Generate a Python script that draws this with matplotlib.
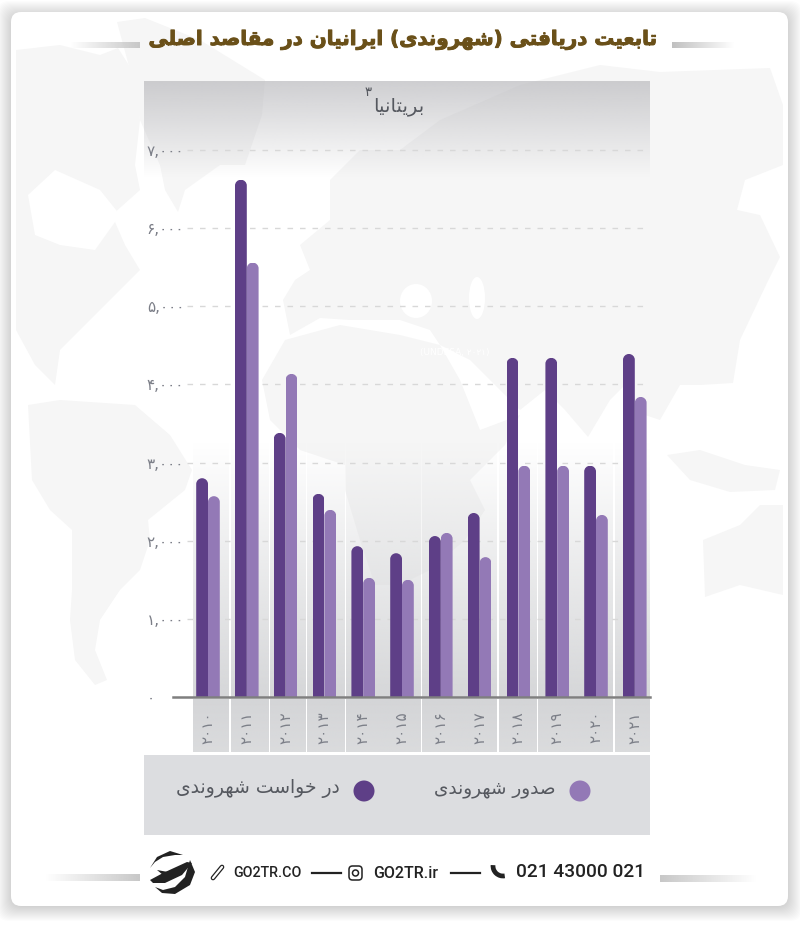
import numpy as np
import matplotlib
matplotlib.use("Agg")
import matplotlib.pyplot as plt
import matplotlib.patheffects as pe
from matplotlib.patches import Rectangle, FancyBboxPatch, Circle, Polygon, Arc, Ellipse
from matplotlib.path import Path

years = ["۲۰۱۰", "۲۰۱۱", "۲۰۱۲", "۲۰۱۳", "۲۰۱۴", "۲۰۱۵", "۲۰۱۶", "۲۰۱۷", "۲۰۱۸", "۲۰۱۹", "۲۰۲۰", "۲۰۲۱"]
applied = [2800, 6620, 3380, 2600, 1930, 1840, 2060, 2355, 4340, 4340, 2960, 4390]
granted = [2570, 5560, 4135, 2395, 1525, 1500, 2100, 1790, 2960, 2960, 2330, 3840]
y_ticks = [0, 1000, 2000, 3000, 4000, 5000, 6000, 7000]
y_labels = ["۰", "۱,۰۰۰", "۲,۰۰۰", "۳,۰۰۰", "۴,۰۰۰", "۵,۰۰۰", "۶,۰۰۰", "۷,۰۰۰"]
title = "تابعیت دریافتی (شهروندی) ایرانیان در مقاصد اصلی"
country = "بریتانیا"
applied_label = "در خواست شهروندی"
granted_label = "صدور شهروندی"

DARK = "#5e3f87"
LIGHT = "#9379b6"
MAP = "#f6f6f6"

# isolated, final, initial, medial
forms = {
    "ا": "\uFE8D\uFE8E", "د": "\uFEA9\uFEAA", "ر": "\uFEAD\uFEAE", "و": "\uFEED\uFEEE",
    "ب": "\uFE8F\uFE90\uFE91\uFE92", "ت": "\uFE95\uFE96\uFE97\uFE98",
    "ی": "\uFBFC\uFBFD\uFBFE\uFBFF", "ن": "\uFEE5\uFEE6\uFEE7\uFEE8",
    "ع": "\uFEC9\uFECA\uFECB\uFECC", "ف": "\uFED1\uFED2\uFED3\uFED4",
    "ق": "\uFED5\uFED6\uFED7\uFED8", "م": "\uFEE1\uFEE2\uFEE3\uFEE4",
    "ص": "\uFEB9\uFEBA\uFEBB\uFEBC", "ل": "\uFEDD\uFEDE\uFEDF\uFEE0",
    "ش": "\uFEB5\uFEB6\uFEB7\uFEB8", "ه": "\uFEE9\uFEEA\uFEEB\uFEEC",
    "خ": "\uFEA5\uFEA6\uFEA7\uFEA8", "س": "\uFEB1\uFEB2\uFEB3\uFEB4",
}


# matplotlib has no arabic shaping, so pick the joined glyphs by hand
def fa(s):
    out = []
    for i, c in enumerate(s):
        if c not in forms:
            out.append({"(": ")", ")": "("}.get(c, c))
            continue
        before = i > 0 and s[i - 1] in forms and len(forms[s[i - 1]]) == 4
        after = i < len(s) - 1 and s[i + 1] in forms
        f = forms[c]
        if len(f) == 2:
            out.append(f[1] if before else f[0])
        elif before and after:
            out.append(f[3])
        elif before:
            out.append(f[1])
        elif after:
            out.append(f[2])
        else:
            out.append(f[0])
    return "".join(out[::-1])


fig = plt.figure(figsize=(8, 9.31), dpi=100, facecolor="white")
bg = fig.add_axes([0, 0, 1, 1], zorder=0)
bg.set_xlim(0, 800)
bg.set_ylim(931, 0)
bg.axis("off")


def grad(x0, x1, y0, y1, rgb, a0, a1, vert=True, z=3):
    n = 64
    arr = np.zeros((n, 1, 4)) if vert else np.zeros((1, n, 4))
    arr[..., :3] = matplotlib.colors.to_rgb(rgb)
    arr[..., 3] = np.linspace(a0, a1, n).reshape(arr.shape[:2])
    bg.imshow(arr, extent=(x0, x1, y1, y0), aspect="auto", interpolation="bilinear", zorder=z)


# card and its shadow
for k in range(15):
    bg.add_patch(FancyBboxPatch((11 - k, 15 - k), 777 + 2 * k, 892 + 2 * k, boxstyle="round,pad=0,rounding_size=12",
                                fc="black", ec="none", alpha=0.010, zorder=0))
bg.add_patch(FancyBboxPatch((11, 12), 777, 894, boxstyle="round,pad=0,rounding_size=10", fc="white", ec="none", zorder=1))

# faint world map
land = [
    [(16, 50), (60, 45), (100, 55), (118, 48), (132, 70), (140, 120), (135, 165), (140, 190), (112, 215), (125, 245),
     (140, 270), (110, 300), (75, 335), (60, 350), (55, 385), (35, 365), (16, 330)],
    [(117, 22), (145, 18), (200, 40), (265, 80), (262, 115), (245, 165), (220, 165), (185, 190), (178, 212), (165, 190),
     (160, 165), (140, 120), (130, 70)],
    [(28, 405), (60, 400), (135, 405), (170, 435), (192, 470), (185, 490), (148, 520), (150, 540), (140, 570), (120, 590),
     (100, 620), (95, 650), (107, 680), (95, 685), (75, 660), (70, 620), (72, 590), (72, 530), (50, 510), (32, 480)],
    [(285, 340), (340, 325), (400, 335), (440, 345), (460, 380), (480, 430), (520, 415), (505, 445), (470, 480),
     (485, 510), (465, 540), (430, 570), (400, 585), (375, 585), (360, 540), (345, 490), (345, 465), (300, 450),
     (270, 420), (262, 380)],
    [(283, 300), (295, 280), (310, 270), (300, 245), (330, 220), (330, 180), (360, 150), (400, 150), (440, 120),
     (520, 85), (560, 75), (600, 65), (660, 72), (770, 68), (783, 105), (783, 165), (745, 180), (737, 210), (760, 215),
     (780, 257), (767, 283), (740, 340), (733, 383), (700, 385), (680, 385), (660, 420), (645, 415), (625, 385),
     (610, 400), (588, 437), (565, 410), (545, 390), (520, 410), (470, 360), (440, 345), (430, 330), (400, 320),
     (350, 320), (320, 318), (290, 335)],
    [(667, 455), (700, 450), (745, 465), (780, 470), (775, 490), (730, 492), (690, 480)],
    [(703, 540), (740, 525), (760, 505), (783, 505), (783, 595), (740, 585), (705, 597)],
]
for p in land:
    bg.add_patch(Polygon(p, fc=MAP, ec="none", joinstyle="round", zorder=2))
bg.add_patch(Polygon([(28, 195), (55, 170), (100, 190), (120, 215), (95, 250), (60, 245), (35, 235)],
                     fc="white", ec="none", zorder=2))
bg.add_patch(Ellipse((416, 301), 32, 34, fc="white", ec="none", zorder=2))
bg.add_patch(Ellipse((477, 298), 16, 42, fc="white", ec="none", zorder=2))

# title rules
grad(70, 140, 42, 48, "#c8c8c8", 0, 1, vert=False)
grad(672, 735, 42, 48, "#c0c0c0", 1, 0, vert=False)
grad(45, 140, 874, 881, "#c8c8c8", 0, 1, vert=False)
grad(660, 757, 875, 882, "#c8c8c8", 1, 0, vert=False)

# panel gradient, columns, tick cells and legend box
grad(144, 650, 81, 178, "#b8b8bc", 0.68, 0)
cells = [(193, 229), (230.6, 268.5), (270, 305.4), (307, 344.6), (346, 421), (422.4, 497.4), (498.8, 536.4),
         (537.7, 573.9), (575.2, 612.4), (615, 650)]
for a, b in cells:
    grad(a, b, 440, 697, "#d6d7d9", 0, 1)
    grad(a, b, 699, 752, "#d4d5d7", 1, 0.85)
bg.add_patch(Rectangle((144, 755), 506, 80, fc="#dcdde0", ec="none", zorder=3))

bg.text(399, 106, fa(country), fontsize=14, color="#55585f", ha="center", va="center", zorder=4)
bg.text(368, 93, "۳", fontsize=9.5, color="#55585f", ha="center", va="center", zorder=4)
bg.text(404, 40, fa(title), fontsize=14.3, fontweight="bold", color="#6a5019", ha="center", va="center", zorder=4,
        path_effects=[pe.withStroke(linewidth=0.7, foreground="#6a5019")])
bg.text(455, 353, "(UNDESA, ۲۰۲۱)", fontsize=6.5, color="white", ha="center", va="center", zorder=4)

# legend
bg.add_patch(Circle((364, 791), 10.5, fc=DARK, ec="none", zorder=4))
bg.add_patch(Circle((580, 791), 10.5, fc=LIGHT, ec="none", zorder=4))
bg.text(340, 789, fa(applied_label), fontsize=13.5, color="#55585f", ha="right", va="center", zorder=4)
bg.text(555, 789, fa(granted_label), fontsize=13.3, color="#55585f", ha="right", va="center", zorder=4)

# footer
foot = dict(family="Roboto", fontweight="medium", color="#222222", va="center", ha="left", zorder=4)
bg.text(233, 873, "GO2TR.CO", fontsize=10.3, **foot)
bg.text(373, 873, "GO2TR.ir", fontsize=11.5, **foot)
bg.text(516, 872, "021 43000 021", fontsize=13.8, **foot)
bg.plot([312, 341], [873, 873], color="#222222", lw=1.6, zorder=4)
bg.plot([451, 480], [873, 873], color="#222222", lw=1.6, zorder=4)
# link, instagram, phone icons
bg.plot([213, 222], [878, 867], color="#222222", lw=3.4, solid_capstyle="round", zorder=4)
bg.plot([213, 222], [878, 867], color="white", lw=1.6, solid_capstyle="round", zorder=5)
bg.add_patch(FancyBboxPatch((349, 866), 13, 14, boxstyle="round,pad=0,rounding_size=3.5", fc="none", ec="#222222", lw=1.1, zorder=4))
bg.add_patch(Circle((355.5, 873), 3, fc="none", ec="#222222", lw=1.1, zorder=4))
bg.add_patch(Arc((503, 866), 20, 20, theta1=80, theta2=185, color="#222222", lw=3.4, zorder=4))
# logo
logo = [
    [(150, 868), (157, 857), (170, 851), (183, 855), (175, 855), (163, 857), (155, 862)],
    [(190, 860), (195, 872), (190, 885), (175, 894), (162, 893), (155, 887), (163, 890), (175, 887), (185, 877)],
    [(150, 880), (163, 873), (187, 862), (192, 863), (182, 875), (165, 883), (153, 883)],
    [(157, 870), (168, 872), (163, 875)],
]
for p in logo:
    bg.add_patch(Polygon(p, fc="#222222", ec="none", zorder=4))

# chart axes share the pixel layout of the panel
ax = fig.add_axes([144 / 800, 1 - 697 / 931, 506 / 800, 616 / 931], zorder=1)
ax.patch.set_alpha(0)
step = 38.8
xmin = (144 - 208) / step
xmax = (650 - 208) / step
ax.set_xlim(xmin, xmax)
ax.set_ylim(0, 616 / 78.14 * 1000)

x = np.arange(len(years))
w = 0.304
ax.hlines(y_ticks[1:], (187 - 208) / step, xmax, color="#d8d8d8", lw=1, linestyles=(0, (4, 5)), zorder=1)

# rounded tops, the plain bars get clipped to this shape
rx = w / 2
ry = 5.8 / 78.14 * 1000
for vals, off, col, lab in [(applied, -w / 2, DARK, applied_label), (granted, w / 2, LIGHT, granted_label)]:
    bars = ax.bar(x + off, vals, width=w, color=col, label=fa(lab), zorder=2)
    for b in bars:
        x0, x1, v = b.get_x(), b.get_x() + w, b.get_height()
        k = 0.55
        verts = [(x0, 0), (x0, v - ry), (x0, v - ry + k * ry), (x0 + rx - k * rx, v), (x0 + rx, v),
                 (x0 + rx + k * rx, v), (x1, v - ry + k * ry), (x1, v - ry), (x1, 0), (x0, 0)]
        codes = [Path.MOVETO, Path.LINETO, Path.CURVE4, Path.CURVE4, Path.CURVE4,
                 Path.CURVE4, Path.CURVE4, Path.CURVE4, Path.LINETO, Path.CLOSEPOLY]
        b.set_clip_path(Path(verts, codes), ax.transData)

for s in ["top", "left", "right"]:
    ax.spines[s].set_visible(False)
ax.spines["bottom"].set_color("#7f7f7f")
ax.spines["bottom"].set_linewidth(1.8)
ax.spines["bottom"].set_bounds((173 - 208) / step, xmax)

ax.set_xticks(x, years, rotation=90, fontsize=11, color="#7c7f88")
ax.set_yticks(y_ticks, y_labels, fontsize=11, color="#7c7f88", ha="left")
ax.tick_params(axis="x", length=0, pad=10)
ax.tick_params(axis="y", length=0, pad=-2)

fig.savefig("out.png", dpi=100)
